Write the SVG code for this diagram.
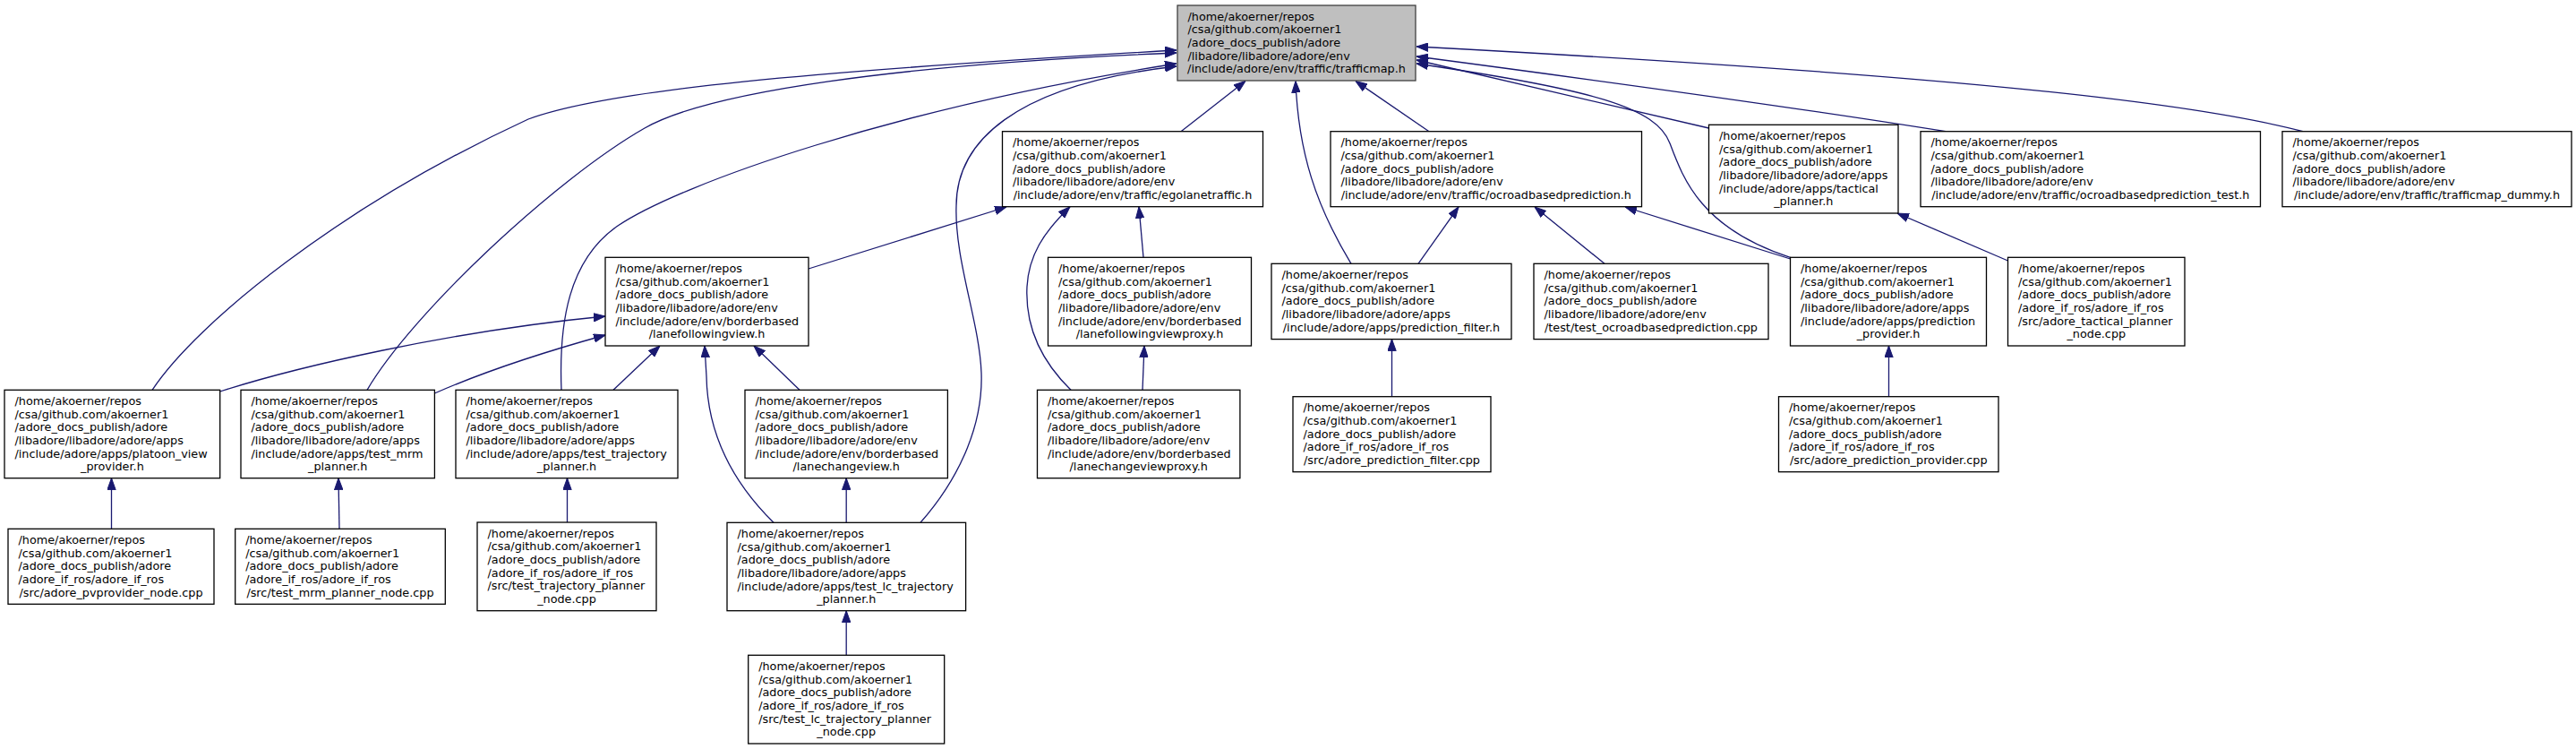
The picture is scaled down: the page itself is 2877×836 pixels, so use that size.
<svg xmlns="http://www.w3.org/2000/svg" width="2877" height="836" viewBox="0 0 2877 836">
<style>
.n rect{fill:#fff;stroke:#000;stroke-width:1.3}
.n.root rect{fill:#bfbfbf;stroke:#404040}
.n text{font-family:"DejaVu Sans","Liberation Sans",sans-serif;font-size:12.8px;fill:#000}
.n text.c{text-anchor:middle}
#edges path{fill:none;stroke:#191970;stroke-width:1.3;marker-end:url(#ah)}
</style>
<defs>
<marker id="ah" markerUnits="userSpaceOnUse" markerWidth="13" markerHeight="10" viewBox="0 0 13 10" refX="13" refY="5" orient="auto">
<path d="M0,0.3 L13,5 L0,9.7 Z" fill="#191970" stroke="#191970" stroke-width="1"/>
</marker>
</defs>
<rect width="2877" height="836" fill="#fff"/>
<g id="edges">
<path d="M170,435.3 C220,360 380,230 590,133 C680,100 900,80 1314,56"/>
<path d="M410,435.3 C460,350 620,200 720,143 C790,103 1000,72 1314,59"/>
<path d="M627,435.3 C624,360 635,290 690,252 C760,205 1000,120 1314,71"/>
<path d="M1028,583.3 C1075,530 1098,470 1096,416 C1094,360 1066,290 1068,230 C1068,160 1130,95 1314,74"/>
<path d="M1319,146.7 L1391,90.5"/>
<path d="M1509,294.3 C1470,230 1450,170 1447,90.5"/>
<path d="M1596,146.7 L1514,90.5"/>
<path d="M1584,294.3 L1629,231"/>
<path d="M1792,294.3 L1714,231"/>
<path d="M1999.5,289 L1815,231"/>
<path d="M1999.5,287.3 C1900,255 1880,200 1865,160 C1850,120 1780,100 1582,71"/>
<path d="M1908.5,143 L1582,67"/>
<path d="M2173,146.7 C2100,135 1900,105 1582,63"/>
<path d="M2572,146.7 C2450,115 2200,85 1582,52"/>
<path d="M2242.5,291 L2119,238"/>
<path d="M1554.5,442.7 L1554.5,378.6"/>
<path d="M2109.5,442.7 L2109.5,386"/>
<path d="M245.7,437 C330,410 500,370 676,353"/>
<path d="M485.4,439 C540,415 600,395 676,374"/>
<path d="M685,435.3 L737,386"/>
<path d="M864,583.3 C815,535 790,480 789,420 L787,386"/>
<path d="M893,435.3 L842,386"/>
<path d="M903,300 L1124,231"/>
<path d="M1277,287.3 L1272,230.7"/>
<path d="M1196,435.3 C1160,400 1145,360 1147,320 C1149,285 1165,260 1195,230.7"/>
<path d="M1276,435.3 L1278,386"/>
<path d="M945.2,583.3 L945.2,533.7"/>
<path d="M945.2,731.3 L945.2,681.7"/>
<path d="M633.5,583 L633.5,533.7"/>
<path d="M379,590.3 L378,533.7"/>
<path d="M124.5,590.3 L124.5,533.7"/>
</g>
<g id="trafficmap" class="n root">
<rect x="1315" y="6" width="266" height="84"/>
<text x="1326.5" y="22.5">/home/akoerner/repos</text>
<text x="1326.5" y="37.2">/csa/github.com/akoerner1</text>
<text x="1326.5" y="51.8">/adore_docs_publish/adore</text>
<text x="1326.5" y="66.5">/libadore/libadore/adore/env</text>
<text class="c" x="1448" y="81.1">/include/adore/env/traffic/trafficmap.h</text>
</g>
<g id="egolanetraffic" class="n">
<rect x="1119.5" y="146.7" width="291" height="84"/>
<text x="1131" y="163.2">/home/akoerner/repos</text>
<text x="1131" y="177.9">/csa/github.com/akoerner1</text>
<text x="1131" y="192.5">/adore_docs_publish/adore</text>
<text x="1131" y="207.2">/libadore/libadore/adore/env</text>
<text class="c" x="1265" y="221.8">/include/adore/env/traffic/egolanetraffic.h</text>
</g>
<g id="ocroadbasedprediction" class="n">
<rect x="1486" y="146.7" width="347.5" height="84"/>
<text x="1497.5" y="163.2">/home/akoerner/repos</text>
<text x="1497.5" y="177.9">/csa/github.com/akoerner1</text>
<text x="1497.5" y="192.5">/adore_docs_publish/adore</text>
<text x="1497.5" y="207.2">/libadore/libadore/adore/env</text>
<text class="c" x="1659.8" y="221.8">/include/adore/env/traffic/ocroadbasedprediction.h</text>
</g>
<g id="tactical_planner" class="n">
<rect x="1908.5" y="139.3" width="211.5" height="98.7"/>
<text x="1920" y="155.8">/home/akoerner/repos</text>
<text x="1920" y="170.5">/csa/github.com/akoerner1</text>
<text x="1920" y="185.1">/adore_docs_publish/adore</text>
<text x="1920" y="199.8">/libadore/libadore/adore/apps</text>
<text x="1920" y="214.5">/include/adore/apps/tactical</text>
<text class="c" x="2014.3" y="229.1">_planner.h</text>
</g>
<g id="ocroadbasedprediction_test" class="n">
<rect x="2145" y="146.7" width="379.5" height="84"/>
<text x="2156.5" y="163.2">/home/akoerner/repos</text>
<text x="2156.5" y="177.9">/csa/github.com/akoerner1</text>
<text x="2156.5" y="192.5">/adore_docs_publish/adore</text>
<text x="2156.5" y="207.2">/libadore/libadore/adore/env</text>
<text class="c" x="2334.8" y="221.8">/include/adore/env/traffic/ocroadbasedprediction_test.h</text>
</g>
<g id="trafficmap_dummy" class="n">
<rect x="2549" y="146.7" width="323" height="84"/>
<text x="2560.5" y="163.2">/home/akoerner/repos</text>
<text x="2560.5" y="177.9">/csa/github.com/akoerner1</text>
<text x="2560.5" y="192.5">/adore_docs_publish/adore</text>
<text x="2560.5" y="207.2">/libadore/libadore/adore/env</text>
<text class="c" x="2710.5" y="221.8">/include/adore/env/traffic/trafficmap_dummy.h</text>
</g>
<g id="lanefollowingview" class="n">
<rect x="676" y="287.3" width="227" height="98.7"/>
<text x="687.5" y="303.8">/home/akoerner/repos</text>
<text x="687.5" y="318.5">/csa/github.com/akoerner1</text>
<text x="687.5" y="333.1">/adore_docs_publish/adore</text>
<text x="687.5" y="347.8">/libadore/libadore/adore/env</text>
<text x="687.5" y="362.5">/include/adore/env/borderbased</text>
<text class="c" x="789.5" y="377.1">/lanefollowingview.h</text>
</g>
<g id="lanefollowingviewproxy" class="n">
<rect x="1170.5" y="287.3" width="227" height="98.7"/>
<text x="1182" y="303.8">/home/akoerner/repos</text>
<text x="1182" y="318.5">/csa/github.com/akoerner1</text>
<text x="1182" y="333.1">/adore_docs_publish/adore</text>
<text x="1182" y="347.8">/libadore/libadore/adore/env</text>
<text x="1182" y="362.5">/include/adore/env/borderbased</text>
<text class="c" x="1284" y="377.1">/lanefollowingviewproxy.h</text>
</g>
<g id="prediction_filter" class="n">
<rect x="1420" y="294.3" width="268" height="84.3"/>
<text x="1431.5" y="310.8">/home/akoerner/repos</text>
<text x="1431.5" y="325.5">/csa/github.com/akoerner1</text>
<text x="1431.5" y="340.1">/adore_docs_publish/adore</text>
<text x="1431.5" y="354.8">/libadore/libadore/adore/apps</text>
<text class="c" x="1554" y="369.5">/include/adore/apps/prediction_filter.h</text>
</g>
<g id="test_ocroadbasedprediction" class="n">
<rect x="1713" y="294.3" width="262" height="84.3"/>
<text x="1724.5" y="310.8">/home/akoerner/repos</text>
<text x="1724.5" y="325.5">/csa/github.com/akoerner1</text>
<text x="1724.5" y="340.1">/adore_docs_publish/adore</text>
<text x="1724.5" y="354.8">/libadore/libadore/adore/env</text>
<text class="c" x="1844" y="369.5">/test/test_ocroadbasedprediction.cpp</text>
</g>
<g id="prediction_provider" class="n">
<rect x="1999.5" y="287.3" width="219" height="98.7"/>
<text x="2011" y="303.8">/home/akoerner/repos</text>
<text x="2011" y="318.5">/csa/github.com/akoerner1</text>
<text x="2011" y="333.1">/adore_docs_publish/adore</text>
<text x="2011" y="347.8">/libadore/libadore/adore/apps</text>
<text x="2011" y="362.5">/include/adore/apps/prediction</text>
<text class="c" x="2109" y="377.1">_provider.h</text>
</g>
<g id="tactical_planner_node" class="n">
<rect x="2242.5" y="287.3" width="197.5" height="98.7"/>
<text x="2254" y="303.8">/home/akoerner/repos</text>
<text x="2254" y="318.5">/csa/github.com/akoerner1</text>
<text x="2254" y="333.1">/adore_docs_publish/adore</text>
<text x="2254" y="347.8">/adore_if_ros/adore_if_ros</text>
<text x="2254" y="362.5">/src/adore_tactical_planner</text>
<text class="c" x="2341.3" y="377.1">_node.cpp</text>
</g>
<g id="platoon_view_provider" class="n">
<rect x="5" y="435.3" width="240.7" height="98.4"/>
<text x="16.5" y="451.8">/home/akoerner/repos</text>
<text x="16.5" y="466.5">/csa/github.com/akoerner1</text>
<text x="16.5" y="481.1">/adore_docs_publish/adore</text>
<text x="16.5" y="495.8">/libadore/libadore/adore/apps</text>
<text x="16.5" y="510.5">/include/adore/apps/platoon_view</text>
<text class="c" x="125.4" y="525.1">_provider.h</text>
</g>
<g id="test_mrm_planner" class="n">
<rect x="269" y="435.3" width="216.4" height="98.4"/>
<text x="280.5" y="451.8">/home/akoerner/repos</text>
<text x="280.5" y="466.5">/csa/github.com/akoerner1</text>
<text x="280.5" y="481.1">/adore_docs_publish/adore</text>
<text x="280.5" y="495.8">/libadore/libadore/adore/apps</text>
<text x="280.5" y="510.5">/include/adore/apps/test_mrm</text>
<text class="c" x="377.2" y="525.1">_planner.h</text>
</g>
<g id="test_trajectory_planner" class="n">
<rect x="509" y="435.3" width="248" height="98.4"/>
<text x="520.5" y="451.8">/home/akoerner/repos</text>
<text x="520.5" y="466.5">/csa/github.com/akoerner1</text>
<text x="520.5" y="481.1">/adore_docs_publish/adore</text>
<text x="520.5" y="495.8">/libadore/libadore/adore/apps</text>
<text x="520.5" y="510.5">/include/adore/apps/test_trajectory</text>
<text class="c" x="633" y="525.1">_planner.h</text>
</g>
<g id="lanechangeview" class="n">
<rect x="832" y="435.3" width="226.4" height="98.4"/>
<text x="843.5" y="451.8">/home/akoerner/repos</text>
<text x="843.5" y="466.5">/csa/github.com/akoerner1</text>
<text x="843.5" y="481.1">/adore_docs_publish/adore</text>
<text x="843.5" y="495.8">/libadore/libadore/adore/env</text>
<text x="843.5" y="510.5">/include/adore/env/borderbased</text>
<text class="c" x="945.2" y="525.1">/lanechangeview.h</text>
</g>
<g id="lanechangeviewproxy" class="n">
<rect x="1158.5" y="435.3" width="226.4" height="98.4"/>
<text x="1170" y="451.8">/home/akoerner/repos</text>
<text x="1170" y="466.5">/csa/github.com/akoerner1</text>
<text x="1170" y="481.1">/adore_docs_publish/adore</text>
<text x="1170" y="495.8">/libadore/libadore/adore/env</text>
<text x="1170" y="510.5">/include/adore/env/borderbased</text>
<text class="c" x="1271.7" y="525.1">/lanechangeviewproxy.h</text>
</g>
<g id="adore_pvprovider_node" class="n">
<rect x="9" y="590.3" width="230" height="84"/>
<text x="20.5" y="606.8">/home/akoerner/repos</text>
<text x="20.5" y="621.5">/csa/github.com/akoerner1</text>
<text x="20.5" y="636.1">/adore_docs_publish/adore</text>
<text x="20.5" y="650.8">/adore_if_ros/adore_if_ros</text>
<text class="c" x="124" y="665.5">/src/adore_pvprovider_node.cpp</text>
</g>
<g id="test_mrm_planner_node" class="n">
<rect x="262.7" y="590.3" width="234.6" height="84"/>
<text x="274.2" y="606.8">/home/akoerner/repos</text>
<text x="274.2" y="621.5">/csa/github.com/akoerner1</text>
<text x="274.2" y="636.1">/adore_docs_publish/adore</text>
<text x="274.2" y="650.8">/adore_if_ros/adore_if_ros</text>
<text class="c" x="380" y="665.5">/src/test_mrm_planner_node.cpp</text>
</g>
<g id="test_trajectory_planner_node" class="n">
<rect x="533" y="583" width="200" height="98.7"/>
<text x="544.5" y="599.5">/home/akoerner/repos</text>
<text x="544.5" y="614.2">/csa/github.com/akoerner1</text>
<text x="544.5" y="628.8">/adore_docs_publish/adore</text>
<text x="544.5" y="643.5">/adore_if_ros/adore_if_ros</text>
<text x="544.5" y="658.2">/src/test_trajectory_planner</text>
<text class="c" x="633" y="672.8">_node.cpp</text>
</g>
<g id="test_lc_trajectory_planner" class="n">
<rect x="812" y="583.3" width="266.6" height="98.4"/>
<text x="823.5" y="599.8">/home/akoerner/repos</text>
<text x="823.5" y="614.5">/csa/github.com/akoerner1</text>
<text x="823.5" y="629.1">/adore_docs_publish/adore</text>
<text x="823.5" y="643.8">/libadore/libadore/adore/apps</text>
<text x="823.5" y="658.5">/include/adore/apps/test_lc_trajectory</text>
<text class="c" x="945.3" y="673.1">_planner.h</text>
</g>
<g id="test_lc_trajectory_planner_node" class="n">
<rect x="835.7" y="731.3" width="219" height="98.7"/>
<text x="847.2" y="747.8">/home/akoerner/repos</text>
<text x="847.2" y="762.5">/csa/github.com/akoerner1</text>
<text x="847.2" y="777.1">/adore_docs_publish/adore</text>
<text x="847.2" y="791.8">/adore_if_ros/adore_if_ros</text>
<text x="847.2" y="806.5">/src/test_lc_trajectory_planner</text>
<text class="c" x="945.2" y="821.1">_node.cpp</text>
</g>
<g id="adore_prediction_filter" class="n">
<rect x="1444" y="442.7" width="221" height="84"/>
<text x="1455.5" y="459.2">/home/akoerner/repos</text>
<text x="1455.5" y="473.9">/csa/github.com/akoerner1</text>
<text x="1455.5" y="488.5">/adore_docs_publish/adore</text>
<text x="1455.5" y="503.2">/adore_if_ros/adore_if_ros</text>
<text class="c" x="1554.5" y="517.8">/src/adore_prediction_filter.cpp</text>
</g>
<g id="adore_prediction_provider" class="n">
<rect x="1986.5" y="442.7" width="245.5" height="84"/>
<text x="1998" y="459.2">/home/akoerner/repos</text>
<text x="1998" y="473.9">/csa/github.com/akoerner1</text>
<text x="1998" y="488.5">/adore_docs_publish/adore</text>
<text x="1998" y="503.2">/adore_if_ros/adore_if_ros</text>
<text class="c" x="2109.3" y="517.8">/src/adore_prediction_provider.cpp</text>
</g>
</svg>
